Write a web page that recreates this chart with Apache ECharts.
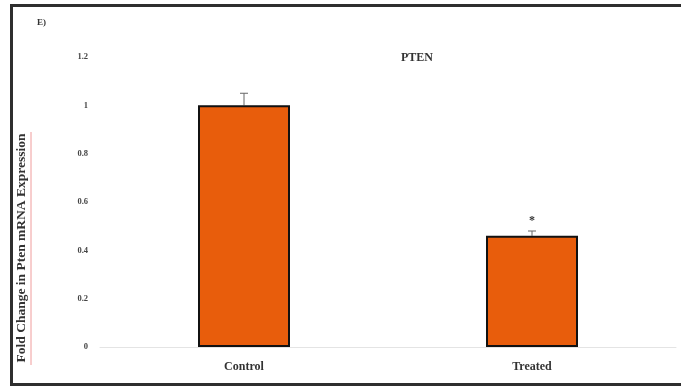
<!DOCTYPE html>
<html>
<head>
<meta charset="utf-8">
<script src="https://cdn.jsdelivr.net/npm/echarts@6/dist/echarts.min.js"></script>
<style>
  html, body { margin: 0; padding: 0; background: #fff; }
  #chart { width: 681px; height: 388px; }
</style>
</head>
<body>
<div id="chart"></div>
<script>
// PTEN expression, fold change relative to control
const categories = ['Control', 'Treated'];
const foldChange = [1.0, 0.46];
const errorUp = [0.05, 0.02];
const significance = ['', '*'];
const yTicks = [0, 0.2, 0.4, 0.6, 0.8, 1, 1.2];
const yTitle = 'Fold Change in Pten mRNA Expression';

const serif = '"Liberation Serif", "DejaVu Serif", serif';

const chart = echarts.init(document.getElementById('chart'));

chart.setOption({
  animation: false,
  backgroundColor: '#ffffff',
  title: {
    text: 'PTEN',
    left: 412,
    top: 47,
    textAlign: 'center',
    textStyle: { fontFamily: serif, fontSize: 12, fontWeight: 'bold', color: '#333' }
  },
  grid: { left: 100, right: 5, top: 57, bottom: 41 },
  xAxis: {
    type: 'category',
    data: categories,
    axisLine: { lineStyle: { color: '#e4e4e4', width: 1 } },
    axisTick: { show: false },
    axisLabel: {
      margin: 14,
      fontFamily: serif, fontSize: 12, fontWeight: 'bold', color: '#333'
    }
  },
  yAxis: {
    type: 'value',
    min: 0,
    max: 1.2,
    interval: 0.2,
    axisLine: { show: false },
    axisTick: { show: false },
    splitLine: { show: false },
    axisLabel: {
      margin: 12,
      fontFamily: serif, fontSize: 8.5, fontWeight: 'bold', color: '#444',
      formatter: v => {
        const t = yTicks.find(x => Math.abs(x - v) < 1e-9);
        return t === undefined ? '' : String(t);
      }
    }
  },
  graphic: [
    {
      type: 'text',
      left: 37,
      top: 18,
      style: { text: 'E)', font: 'bold 9px ' + serif, fill: '#333' }
    },
    {
      type: 'text',
      x: 22,
      y: 248,
      rotation: Math.PI / 2,
      style: {
        text: yTitle, font: 'bold 13.5px ' + serif, fill: '#333',
        align: 'center', verticalAlign: 'middle'
      }
    },
    {
      type: 'line',
      shape: { x1: 31, y1: 132, x2: 31, y2: 365 },
      style: { stroke: 'rgba(230,90,90,0.6)', lineWidth: 1 }
    },
    {
      type: 'rect',
      shape: { x: 11.5, y: 5.5, width: 672, height: 379 },
      style: { fill: 'none', stroke: '#2e2e2e', lineWidth: 3 },
      z: 100
    }
  ],
  series: [
    {
      type: 'bar',
      data: foldChange,
      barWidth: 92,
      itemStyle: { color: '#e85d0c', borderColor: '#111', borderWidth: 2 },
      z: 2
    },
    {
      type: 'custom',
      data: foldChange.map((v, i) => [i, v, v + errorUp[i]]),
      renderItem: (params, api) => {
        const base = api.coord([api.value(0), api.value(1)]);
        const top = api.coord([api.value(0), api.value(2)]);
        const children = [
          { type: 'line', shape: { x1: base[0], y1: base[1], x2: top[0], y2: top[1] },
            style: { stroke: '#666', lineWidth: 1 } },
          { type: 'line', shape: { x1: top[0] - 4, y1: top[1], x2: top[0] + 4, y2: top[1] },
            style: { stroke: '#666', lineWidth: 1 } }
        ];
        const mark = significance[params.dataIndex];
        if (mark) {
          children.push({
            type: 'text',
            x: top[0], y: top[1] - 4,
            style: { text: mark, font: 'bold 12px ' + serif, fill: '#333',
                     align: 'center', verticalAlign: 'bottom' }
          });
        }
        return { type: 'group', children };
      },
      z: 1
    }
  ]
});
</script>
</body>
</html>
